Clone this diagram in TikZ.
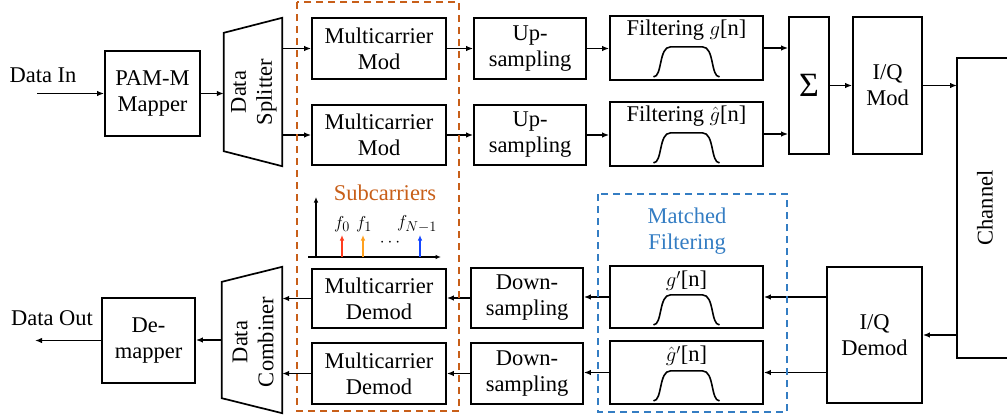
\documentclass[tikz,border=0pt]{standalone}
\usepackage{fontspec}
\setmainfont{Liberation Serif}
\usetikzlibrary{arrows.meta}
\definecolor{subor}{RGB}{200,95,25}
\definecolor{mfblue}{RGB}{52,125,195}
\definecolor{scred}{RGB}{255,60,30}
\definecolor{scorange}{RGB}{255,160,30}
\definecolor{scblue}{RGB}{20,70,255}
\newcommand\dgfont{\fontsize{22.5}{26}\selectfont}
\newcommand\dgsmall{\fontsize{19}{22}\selectfont}
\begin{document}
\begin{tikzpicture}[x=1pt,y=-1pt,
  blk/.style={draw, line width=1.7pt, align=center, inner sep=0pt, font=\dgfont},
  lbl/.style={font=\dgfont, align=center, inner sep=0pt},
  arr/.style={line width=1.9pt, -{Latex[length=7pt,width=5.5pt]}},
  sarr/.style={line width=1.5pt, -{Latex[length=5.5pt,width=4.5pt]}},
  grp/.style={line width=1.5pt, dash pattern=on 7pt off 5pt},
  bump/.pic={\draw[line width=1.6pt] (-33,0) .. controls (-24,0) and (-28,-30) .. (-16,-30)
     -- (16,-30) .. controls (28,-30) and (24,0) .. (33,0);}]
\useasboundingbox (0,0) rectangle (1007,418);

% transmitter chain
\node[blk, minimum width=95pt, minimum height=85pt] (pam) at (152.5,93.5) {PAM-M\\Mapper};
\node[minimum width=58pt, minimum height=148pt, inner sep=0pt] (spl) at (253,92) {};
\draw[line width=1.7pt] (spl.north east) -- (spl.south east) -- ([yshift=15pt]spl.south west)
  -- ([yshift=-15pt]spl.north west) -- cycle;
\node[lbl, rotate=90] (spltxt) at (254,92) {Data\\Splitter};

\node[blk, minimum width=134pt, minimum height=61pt] (mc1) at (379,48.5) {Multicarrier\\Mod};
\node[blk, minimum width=134pt, minimum height=60pt] (mc2) at (379,135) {Multicarrier\\Mod};
\node[blk, minimum width=112pt, minimum height=61pt] (up1) at (530,48.5) {Up-\\sampling};
\node[blk, minimum width=112pt, minimum height=60pt] (up2) at (530,135) {Up-\\sampling};
\node[blk, minimum width=153pt, minimum height=64pt] (fl1) at (686.5,48) {};
\node[blk, minimum width=153pt, minimum height=64pt] (fl2) at (686.5,134) {};
\node[lbl, anchor=north] (fl1txt) at ([yshift=-5pt]fl1.north) {Filtering $g$[n]};
\node[lbl, anchor=north] (fl2txt) at ([yshift=-5pt]fl2.north) {Filtering $\hat{g}$[n]};
\pic at ([yshift=4pt]fl1.south) {bump};
\pic at ([yshift=4pt]fl2.south) {bump};
\node[blk, minimum width=40pt, minimum height=137pt, font=\fontsize{34}{34}\selectfont] (sum) at (809,85.5) {Σ};
\node[blk, minimum width=69pt, minimum height=137pt] (iqm) at (887.5,85.5) {I/Q\\Mod};

% channel
\coordinate (chtl) at (957,58);
\coordinate (chbl) at (957,358);
\draw[line width=1.7pt] (1008,58) -- (chtl) -- (chbl) -- (1008,358);
\node[lbl, rotate=90] (chan) at (985,208) {Channel};

% receiver chain
\node[blk, minimum width=95pt, minimum height=136pt] (iqd) at (874.5,335) {I/Q\\Demod};
\node[blk, minimum width=153pt, minimum height=62pt] (mf1) at (686.5,297) {};
\node[blk, minimum width=153pt, minimum height=63pt] (mf2) at (686.5,372.5) {};
\node[lbl, anchor=north] (mf1txt) at ([yshift=-6pt]mf1.north) {$g'$[n]};
\node[lbl, anchor=north] (mf2txt) at ([yshift=-6pt]mf2.north) {$\hat{g}'$[n]};
\pic at ([yshift=4pt]mf1.south) {bump};
\pic at ([yshift=4pt]mf2.south) {bump};
\node[blk, minimum width=112pt, minimum height=60pt] (ds1) at (527,298) {Down-\\sampling};
\node[blk, minimum width=112pt, minimum height=61pt] (ds2) at (527,373.5) {Down-\\sampling};
\node[blk, minimum width=134pt, minimum height=59pt] (md1) at (379,298.5) {Multicarrier\\Demod};
\node[blk, minimum width=134pt, minimum height=61pt] (md2) at (379,373.5) {Multicarrier\\Demod};
\node[minimum width=60pt, minimum height=146pt, inner sep=0pt] (comb) at (252,340) {};
\draw[line width=1.7pt] (comb.north east) -- (comb.south east) -- ([yshift=15pt]comb.south west)
  -- ([yshift=-15pt]comb.north west) -- cycle;
\node[lbl, rotate=90] (combtxt) at (253,342) {Data\\Combiner};
\node[blk, minimum width=93pt, minimum height=85pt] (dem) at (148.5,340.5) {De-\\mapper};

% inputs and outputs
\coordinate (din) at (37,93.5);
\coordinate (dout) at (35,340.5);
\node[lbl] (dintxt) at (43,75) {Data In};
\node[lbl] (douttxt) at (52,318) {Data Out};

% connectors
\draw[arr] (din) -- (pam.west);
\draw[arr] (pam.east) -- (pam.east -| spl.west);
\draw[arr] (spl.east |- mc1.west) -- (mc1.west);
\draw[arr] (spl.east |- mc2.west) -- (mc2.west);
\draw[arr] (mc1.east) -- (up1.west);
\draw[arr] (mc2.east) -- (up2.west);
\draw[arr] (up1.east) -- (up1.east -| fl1.west);
\draw[arr] (up2.east) -- (up2.east -| fl2.west);
\draw[arr] (fl1.east) -- (fl1.east -| sum.west);
\draw[arr] (fl2.east) -- (fl2.east -| sum.west);
\draw[arr] (sum.east) -- (iqm.west);
\draw[arr] (iqm.east) -- (iqm.east -| chtl);
\draw[arr] (iqd.east -| chtl) -- (iqd.east);
\draw[arr] (iqd.west |- mf1.east) -- (mf1.east);
\draw[arr] (iqd.west |- mf2.east) -- (mf2.east);
\draw[arr] (mf1.west) -- (mf1.west -| ds1.east);
\draw[arr] (mf2.west) -- (mf2.west -| ds2.east);
\draw[arr] (ds1.west) -- (ds1.west -| md1.east);
\draw[arr] (ds2.west) -- (ds2.west -| md2.east);
\draw[arr] (md1.west) -- (md1.west -| comb.east);
\draw[arr] (md2.west) -- (md2.west -| comb.east);
\draw[arr] (comb.west) -- (comb.west -| dem.east);
\draw[arr] (dem.west) -- (dout);

% groups
\draw[grp, subor] (297,2) rectangle (459,411);
\draw[grp, mfblue] (598,194) rectangle (787,412);
\node[lbl, text=subor] (subtxt) at (385,193) {Subcarriers};
\node[lbl, text=mfblue] (mftxt) at (687,231) {Matched\\Filtering};

% subcarrier spectrum
\coordinate (org) at (316,257);
\draw[sarr] (org) -- (316,197);
\draw[sarr] (308,257) -- (441,257);
\draw[sarr, scred] (342,257) -- (342,235);
\draw[sarr, scorange] (363,257) -- (363,235);
\draw[sarr, scblue] (420,257) -- (420,235);
\node[font=\dgsmall, inner sep=0pt] (f0) at (342,224) {$f_0$};
\node[font=\dgsmall, inner sep=0pt] (f1) at (364,224) {$f_1$};
\node[font=\dgsmall, inner sep=0pt] (fn) at (417,224) {$f_{N-1}$};
\node[font=\dgsmall, inner sep=0pt] (dots) at (390,243) {$\cdots$};
\end{tikzpicture}
\end{document}
